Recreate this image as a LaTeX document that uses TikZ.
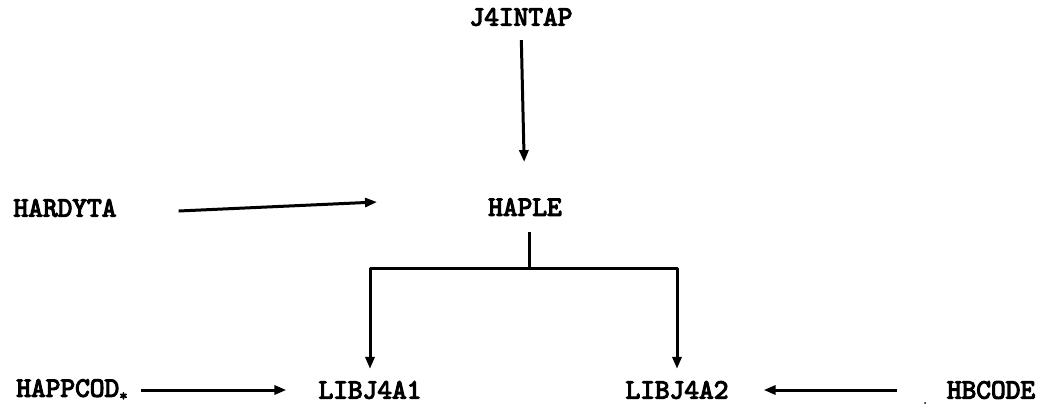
\documentclass[tikz,border=0pt]{standalone}
\usepackage{fontspec}
\setmonofont[AutoFakeBold=4]{lmmono10-regular.otf}
\usetikzlibrary{arrows.meta,calc}

\tikzset{
  lbl/.style={inner sep=0pt, font=\fontsize{28}{28}\selectfont\ttfamily\bfseries},
  arr/.style={line width=3pt, -{Triangle[length=12pt,width=9pt]}},
  wire/.style={line width=3pt}
}

\begin{document}
\begin{tikzpicture}[x=1pt,y=-1pt]
  \useasboundingbox (0,0) rectangle (1045,408);

  % module names
  \node[lbl] (intap) at (521,17)  {J4INTAP};
  \node[lbl] (haple) at (525,207) {HAPLE};
  \node[lbl] (hardy) at (65,208)  {HARDYTA};
  \node[lbl] (happc) at (72,390)  {HAPPCOD\raisebox{-4pt}{\fontsize{16}{16}\selectfont *}};
  \node[lbl] (lib1)  at (370,390) {LIBJ4A1};
  \node[lbl] (lib2)  at (677,390) {LIBJ4A2};
  \node[lbl] (hbcod) at (991,390) {HBCODE};

  % calls into HAPLE
  \draw[arr, shorten <=14pt, shorten >=36pt] (intap.south) -- (haple.north);
  \draw[arr] ($(hardy.east)+(62,3)$) -- ($(haple.west)+(-111,-5)$);

  % HAPLE branches to both libraries
  \coordinate (fork) at ($(haple.south)+(4,53)$);
  \draw[wire] ($(haple.south)+(4,16)$) -- (fork);
  \draw[arr, line join=round, shorten >=12pt] (fork) -| (lib1.north);
  \draw[arr, line join=round, shorten >=12pt] (fork) -| (lib2.north);

  % side inputs to the libraries
  \draw[arr, shorten <=13pt, shorten >=32pt] (happc.east) -- (lib1.west);
  \draw[arr, shorten <=50pt, shorten >=35pt] (hbcod.west) -- (lib2.east);

  % stray mark
  \fill (925,403) circle (1pt);
\end{tikzpicture}
\end{document}
